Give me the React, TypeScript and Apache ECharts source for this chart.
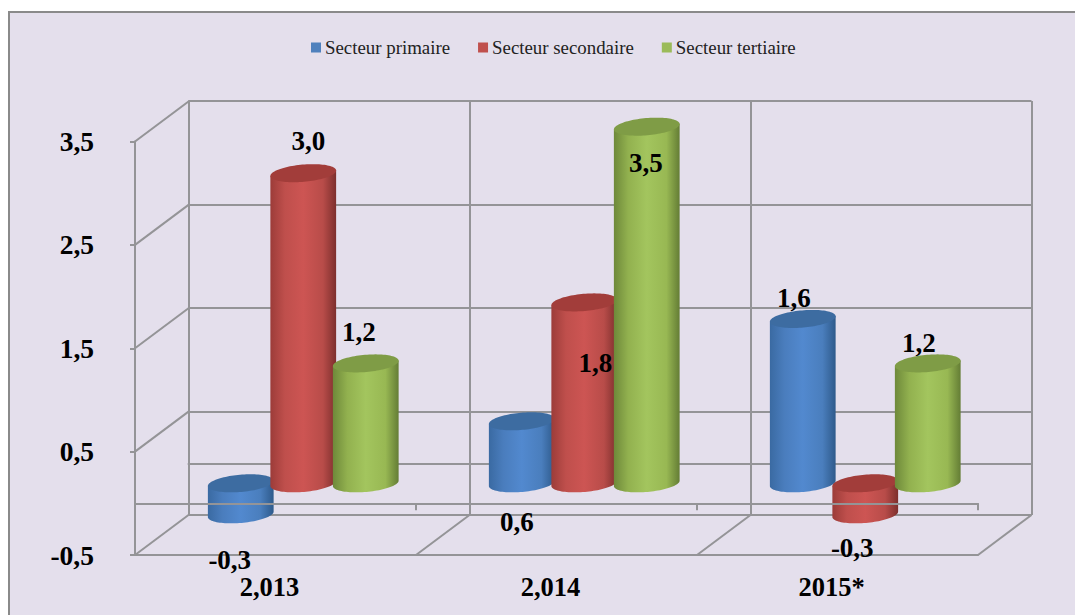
import React, { useEffect, useRef } from "react";
import * as echarts from "echarts";

const categories = ["2,013", "2,014", "2015*"];
const seriesNames = ["Secteur primaire", "Secteur secondaire", "Secteur tertiaire"];
const primaire = [-0.3, 0.6, 1.59];
const secondaire = [3.0, 1.75, -0.3];
const tertiaire = [1.16, 3.45, 1.16];
const yTicks = [-0.5, 0.5, 1.5, 2.5, 3.5];

const FONT = '"Liberation Serif", "Times New Roman", serif';
const LINE = "#949497";
const DX = 53.5;
const DY = -40;
const SPREAD = 62.5 / 281;
const RX = 33;
const RY = 8.6;
const TILT = (-5 * Math.PI) / 180;
const BAR_SHIFT = 1;

const sideColors = [
  ["#3a6aa2", "#4a7dbd", "#5289cf", "#4a7ebd", "#2e5a8b"],
  ["#9c3c39", "#bf4f4c", "#cd5553", "#b84c49", "#7d2f2d"],
  ["#6e893a", "#92b14f", "#a3c55e", "#98b853", "#647d35"],
];
const capColors = ["#3d6ca1", "#a23d3a", "#7f9c46"];
const legendColors = ["#4f81bd", "#c0504d", "#9bbb59"];
const labelOffsets = [
  [[-11, 46], [-5, 101], [-9, -21]],
  [[5, -32], [11, 61], [-13, 34]],
  [[-7, -31], [-1, 36], [-9, -20]],
];

function ellipsePoint(cx: number, cy: number, t: number) {
  const x = RX * Math.cos(t);
  const y = RY * Math.sin(t);
  return [cx + x * Math.cos(TILT) - y * Math.sin(TILT), cy + x * Math.sin(TILT) + y * Math.cos(TILT)];
}

function ellipseArc(cx: number, cy: number, from: number, to: number, steps = 48) {
  const pts: number[][] = [];
  for (let i = 0; i <= steps; i++) pts.push(ellipsePoint(cx, cy, from + ((to - from) * i) / steps));
  return pts;
}

function barSeries(name: string, values: number[], s: number) {
  return {
    type: "custom",
    name,
    xAxisIndex: 0,
    yAxisIndex: 0,
    z: 2 + s,
    silent: true,
    clip: false,
    itemStyle: { color: legendColors[s] },
    encode: { x: 0, y: 1 },
    data: values.map((v, i) => [i, v]),
    renderItem: (params: any, api: any) => {
      const i = api.value(0);
      const v = api.value(1);
      const band = api.size([1, 0])[0];
      const zero = api.coord([i, 0]);
      const end = api.coord([i, v]);
      const cx = zero[0] + DX / 2 + BAR_SHIFT + (s - 1) * band * SPREAD;
      const yA = zero[1] + DY / 2;
      const yB = end[1] + DY / 2;
      const yTop = Math.min(yA, yB);
      const yBot = Math.max(yA, yB);
      const c = sideColors[s];
      const body = [...ellipseArc(cx, yBot, 0, Math.PI), ellipsePoint(cx, yTop, Math.PI), ellipsePoint(cx, yTop, 0)];
      const cap = ellipseArc(cx, yTop, 0, Math.PI * 2, 96);
      const off = labelOffsets[s][params.dataIndex];
      return {
        type: "group",
        children: [
          {
            type: "polygon",
            shape: { points: body },
            style: {
              fill: new echarts.graphic.LinearGradient(0, 0, 1, 0, [
                { offset: 0, color: c[0] },
                { offset: 0.22, color: c[1] },
                { offset: 0.5, color: c[2] },
                { offset: 0.8, color: c[3] },
                { offset: 1, color: c[4] },
              ]),
            },
          },
          { type: "polygon", shape: { points: cap }, style: { fill: capColors[s] } },
          {
            type: "text",
            z2: 50,
            style: {
              text: (Math.round(v * 10) / 10).toFixed(1).replace(".", ","),
              x: cx + off[0],
              y: yB + off[1],
              align: "center",
              verticalAlign: "middle",
              fontFamily: FONT,
              fontSize: 27,
              fontWeight: "bold",
              fill: "#000",
            },
          },
        ],
      };
    },
  };
}

const frameLines: number[][] = [...yTicks.map((v) => [0, v]), [1, -0.5], [2, -0.5], [3, -0.5]];

const option: any = {
  animation: false,
  backgroundColor: "#ffffff",
  color: legendColors,
  graphic: [
    {
      type: "rect",
      z: -10,
      shape: { x: 9, y: 12, width: 1100, height: 700 },
      style: { fill: "#E4DFEC", stroke: "#8a8a8a", lineWidth: 2 },
    },
  ],
  legend: {
    left: 311,
    top: 38,
    icon: "rect",
    itemWidth: 10,
    itemHeight: 10,
    itemGap: 28,
    padding: 0,
    data: seriesNames,
    textStyle: { fontFamily: FONT, fontSize: 18.85, color: "#222", padding: [0, 0, 0, -1] },
  },
  grid: [
    { left: 135, top: 141.5, width: 843, height: 413.5 },
    { left: 188.5, top: 101, width: 843, height: 414 },
  ],
  xAxis: [
    {
      type: "category",
      gridIndex: 0,
      position: "bottom",
      data: categories,
      z: 10,
      axisLine: { onZero: true, lineStyle: { color: LINE, width: 2 } },
      axisTick: { show: true, length: 7, lineStyle: { color: LINE, width: 2 } },
      axisLabel: { show: false },
      splitLine: { show: false },
    },
    {
      type: "category",
      gridIndex: 0,
      position: "bottom",
      data: categories,
      axisLine: { onZero: false, lineStyle: { color: LINE, width: 2 } },
      axisTick: { show: false },
      axisLabel: {
        margin: 18,
        padding: [0, 12, 0, 0],
        fontFamily: FONT,
        fontSize: 26.5,
        fontWeight: "bold",
        color: "#000",
      },
      splitLine: { show: false },
    },
    {
      type: "category",
      gridIndex: 1,
      position: "bottom",
      data: categories,
      axisLine: { onZero: true, lineStyle: { color: LINE, width: 2 } },
      axisTick: { show: false },
      axisLabel: { show: false },
      splitLine: { show: true, lineStyle: { color: LINE, width: 2 } },
    },
  ],
  yAxis: [
    {
      type: "value",
      gridIndex: 0,
      min: -0.5,
      max: 3.5,
      interval: 0.5,
      axisLine: { show: true, onZero: false, lineStyle: { color: LINE, width: 2 } },
      axisTick: { show: true, length: 5, customValues: yTicks, lineStyle: { color: LINE, width: 2 } },
      axisLabel: {
        customValues: yTicks,
        margin: 41,
        formatter: (v: number) => String(v).replace(".", ","),
        fontFamily: FONT,
        fontSize: 27.5,
        fontWeight: "bold",
        color: "#000",
      },
      splitLine: { show: false },
    },
    {
      type: "value",
      gridIndex: 1,
      min: -0.5,
      max: 3.5,
      interval: 0.5,
      axisLine: { show: true, onZero: false, lineStyle: { color: LINE, width: 2 } },
      axisTick: { show: false, customValues: yTicks },
      axisLabel: { show: false, customValues: yTicks },
      splitLine: { show: true, lineStyle: { color: LINE, width: 2 } },
    },
  ],
  series: [
    {
      type: "custom",
      name: "cadre",
      xAxisIndex: 0,
      yAxisIndex: 0,
      z: 1,
      silent: true,
      clip: false,
      encode: { x: 0, y: 1 },
      data: frameLines.map((f) => [0, f[1]]),
      renderItem: (params: any, api: any) => {
        const band = api.size([1, 0])[0];
        const p = api.coord([0, api.value(1)]);
        const x = p[0] - band / 2 + band * frameLines[params.dataIndex][0];
        return {
          type: "line",
          shape: { x1: x, y1: p[1], x2: x + DX, y2: p[1] + DY },
          style: { stroke: LINE, lineWidth: 2 },
        };
      },
    },
    barSeries(seriesNames[0], primaire, 0),
    barSeries(seriesNames[1], secondaire, 1),
    barSeries(seriesNames[2], tertiaire, 2),
  ],
};

export default function App() {
  const ref = useRef<HTMLDivElement>(null);
  useEffect(() => {
    const chart = echarts.init(ref.current!, undefined, { renderer: "svg" });
    chart.setOption(option);
    return () => chart.dispose();
  }, []);
  return <div ref={ref} style={{ position: "fixed", left: 0, top: 0, width: 1075, height: 615 }} />;
}
